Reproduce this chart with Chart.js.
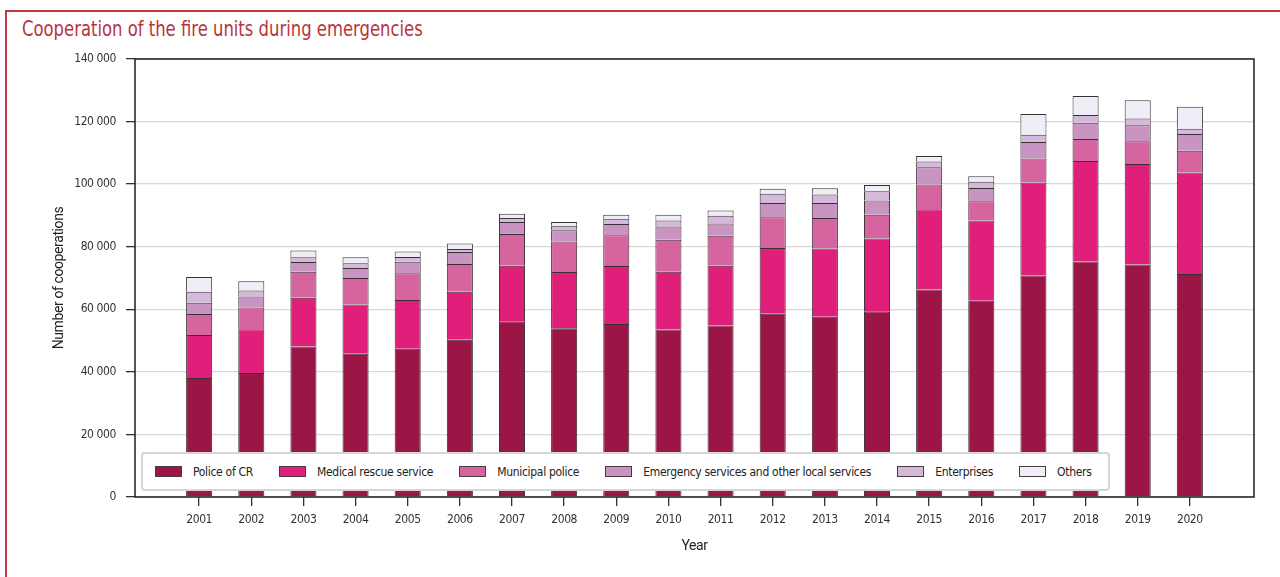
<!DOCTYPE html>
<html>
<head>
<meta charset="utf-8">
<title>Cooperation of the fire units during emergencies</title>
<script src="https://cdn.jsdelivr.net/npm/chart.js@4.4.1/dist/chart.umd.min.js"></script>
<style>
  html, body { margin: 0; padding: 0; background: #fff; }
  body { width: 1280px; height: 577px; position: relative; overflow: hidden; }
  .frame {
    position: absolute; left: 5px; top: 10px; width: 1300px; height: 600px;
    border-top: 2px solid #c3393d; border-left: 2px solid #c3393d;
  }
  .title {
    position: absolute; left: 22px; top: 17px;
    font-family: "DejaVu Sans Condensed", "DejaVu Sans", sans-serif;
    font-size: 21px; line-height: 24px; color: #b8343b; white-space: nowrap;
    transform: scaleX(0.87); transform-origin: 0 0;
  }
  #chart { position: absolute; left: 0; top: 0; }
  .legend {
    position: absolute; left: 141px; top: 452px; width: 969px; height: 39px;
    box-sizing: border-box; border: 2px solid #d5d5d5; border-radius: 4px;
    background: #fff; display: flex; align-items: center; padding-left: 12px;
    font-family: "DejaVu Sans Condensed", "DejaVu Sans", sans-serif;
    font-size: 12px; letter-spacing: -0.3px; color: #222;
  }
  .legend .item { display: flex; align-items: center; margin-right: 26px; white-space: nowrap; }
  .legend .sw { width: 27px; height: 11px; box-sizing: border-box; border: 1px solid #4a3a42; margin-right: 11px; }
</style>
</head>
<body>
<div class="frame"></div>
<div class="title">Cooperation of the fire units during emergencies</div>
<canvas id="chart" width="1280" height="577"></canvas>
<div class="legend" id="legend"></div>
<script>
const years = [2001, 2002, 2003, 2004, 2005, 2006, 2007, 2008, 2009, 2010,
               2011, 2012, 2013, 2014, 2015, 2016, 2017, 2018, 2019, 2020];

const police      = [38000, 39600, 48100, 45800, 47400, 50300, 56200, 53900, 55300, 53500,
                     54800, 58600, 57600, 59400, 66300, 62700, 70800, 75300, 74300, 71300];
const medical     = [13800, 14000, 15600, 15700, 15600, 15300, 17700, 18000, 18500, 18500,
                     19100, 21000, 21800, 23200, 25700, 25700, 29700, 32100, 32100, 32400];
const municipal   = [ 6700,  7000,  8300,  8500,  8500,  8900, 10200,  9800,  9900, 10200,
                      9600,  9800,  9800,  7600,  7900,  6100,  7700,  7000,  7300,  7000];
const emergency   = [ 3600,  3500,  3100,  3200,  3700,  3800,  3800,  3600,  3600,  4300,
                      3900,  4600,  4800,  4600,  5500,  4300,  5300,  5200,  5100,  5300];
const enterprises = [ 3500,  1900,  1500,  1500,  1500,  1000,  1300,  1400,  1600,  1900,
                      2500,  2900,  2650,  2900,  1800,  2000,  2300,  2500,  2200,  1700];
const others      = [ 4700,  3000,  2200,  1900,  1800,  1700,  1300,  1200,  1300,  1800,
                      1700,  1600,  2000,  2000,  1800,  1700,  6600,  6100,  5800,  7000];

const seriesNames  = ['Police of CR', 'Medical rescue service', 'Municipal police',
                      'Emergency services and other local services', 'Enterprises', 'Others'];
const seriesValues = [police, medical, municipal, emergency, enterprises, others];
const seriesColors = ['#9b1646', '#e01f7a', '#d6659f', '#c994c2', '#d5b9db', '#efeef7'];

const yTickValues = [0, 20000, 40000, 60000, 80000, 100000, 120000, 140000];

const condensed = '"DejaVu Sans Condensed", "DejaVu Sans", sans-serif';
const regular = 'Roboto, "Liberation Sans", sans-serif';

// thousands with a space: 140 000
function fmt(v) {
  return String(v).replace(/\B(?=(\d{3})+(?!\d))/g, ' ');
}

// tighter letters for the tick labels, and a black frame round the plot
const frame = {
  id: 'frame',
  beforeDraw(chart) {
    chart.ctx.letterSpacing = '-0.4px';
  },
  afterDatasetsDraw(chart) {
    const a = chart.chartArea;
    const ctx = chart.ctx;
    ctx.save();
    ctx.strokeStyle = '#1e1e1e';
    ctx.lineWidth = 1.5;
    ctx.strokeRect(a.left, a.top, a.right - a.left, a.bottom - a.top);
    ctx.restore();
  }
};

const chart = new Chart(document.getElementById('chart'), {
  type: 'bar',
  data: {
    labels: years,
    datasets: seriesNames.map((name, i) => ({
      label: name,
      data: seriesValues[i],
      backgroundColor: seriesColors[i],
      borderColor: 'rgba(35,25,30,0.9)',
      borderWidth: 1,
      categoryPercentage: 1,
      barPercentage: 0.5
    }))
  },
  options: {
    responsive: false,
    animation: false,
    layout: { padding: { left: 0, top: 59, right: 26, bottom: 0 } },
    plugins: {
      legend: { display: false },
      tooltip: { enabled: false }
    },
    scales: {
      x: {
        type: 'linear',
        stacked: true,
        offset: false,
        min: years[0] - 1.23,
        max: years[years.length - 1] + 1.23,
        afterBuildTicks: s => { s.ticks = years.map(v => ({ value: v })); },
        afterFit: s => { s.height = 80; },
        border: { display: false },
        grid: { offset: false, drawOnChartArea: false, drawTicks: true, tickLength: 9, tickColor: '#333', lineWidth: 1.3 },
        ticks: {
          callback: v => String(v),
          padding: 7,
          color: '#333',
          maxRotation: 0,
          autoSkip: false,
          font: { family: condensed, size: 12 }
        },
        title: {
          display: true,
          text: 'Year',
          color: '#222',
          font: { family: regular, size: 14 },
          padding: { top: 0, bottom: 22 }
        }
      },
      y: {
        stacked: true,
        min: 0,
        max: 140000,
        afterBuildTicks: s => { s.ticks = yTickValues.map(v => ({ value: v })); },
        afterFit: s => { s.width = 135; },
        border: { display: false },
        grid: { color: '#d8d8d8', lineWidth: 1.3, drawTicks: true, tickLength: 9, tickColor: '#333' },
        ticks: {
          callback: v => fmt(v),
          padding: 10,
          color: '#333',
          font: { family: condensed, size: 12 }
        },
        title: {
          display: true,
          text: 'Number of cooperations',
          color: '#222',
          font: { family: regular, size: 14 },
          padding: { top: 51, bottom: 0 }
        }
      }
    }
  },
  plugins: [frame]
});

// legend box laid over the bottom of the plot
const legend = document.getElementById('legend');
seriesNames.forEach((name, i) => {
  const item = document.createElement('div');
  item.className = 'item';
  const sw = document.createElement('span');
  sw.className = 'sw';
  sw.style.background = seriesColors[i];
  const txt = document.createElement('span');
  txt.textContent = name;
  item.appendChild(sw);
  item.appendChild(txt);
  legend.appendChild(item);
});
</script>
</body>
</html>
